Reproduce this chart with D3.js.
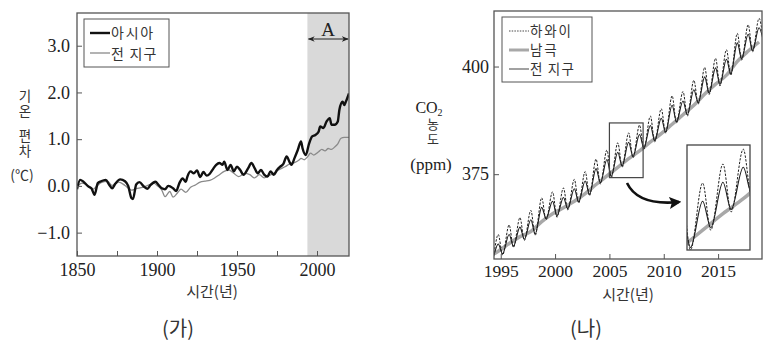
<!DOCTYPE html>
<html>
<head>
<meta charset="utf-8">
<script src="https://cdn.jsdelivr.net/npm/d3@7"></script>
<style>
  body { margin: 0; background: #fff; }
  svg { display: block; }
  .num { font-family: "Liberation Serif", "DejaVu Serif", serif; fill: #222; }
  .kr { font-family: "Noto Sans CJK KR", "Noto Sans", sans-serif; fill: #333; }
  .vert { writing-mode: vertical-rl; text-orientation: upright; }
</style>
</head>
<body>
<svg id="chart" width="765" height="342"></svg>
<script>
// (가) temperature anomaly
var asiaYears = [1850, 1852, 1854, 1857, 1859, 1861, 1863, 1865, 1868, 1870, 1872, 1874, 1877, 1880, 1882, 1884, 1885, 1887, 1889, 1892, 1894, 1896, 1899, 1901, 1903, 1905, 1907, 1910, 1912, 1914, 1916, 1918, 1919, 1921, 1923, 1925, 1927, 1929, 1931, 1933, 1935, 1937, 1939, 1941, 1942, 1944, 1946, 1948, 1950, 1952, 1954, 1957, 1959, 1961, 1963, 1965, 1967, 1969, 1971, 1973, 1975, 1977, 1979, 1981, 1983, 1984, 1986, 1988, 1990, 1991, 1993, 1995, 1997, 1999, 2001, 2002, 2004, 2006, 2008, 2009, 2011, 2013, 2014, 2016, 2017, 2018, 2020];
var asiaAnom  = [-0.07, 0.13, 0.09, -0.01, -0.05, -0.19, 0.06, 0.1, 0.13, 0.03, -0.05, 0.05, 0.14, 0.1, 0.0, -0.26, -0.28, 0.03, 0.08, -0.02, -0.06, 0.02, 0.09, 0.02, -0.05, -0.07, 0.0, -0.05, -0.11, 0.06, 0.16, 0.09, 0.2, 0.31, 0.27, 0.33, 0.19, 0.3, 0.22, 0.26, 0.36, 0.45, 0.49, 0.45, 0.52, 0.34, 0.45, 0.31, 0.41, 0.34, 0.24, 0.38, 0.49, 0.38, 0.27, 0.34, 0.24, 0.2, 0.31, 0.24, 0.34, 0.41, 0.47, 0.63, 0.5, 0.45, 0.6, 0.77, 0.95, 0.8, 0.66, 0.9, 1.06, 1.09, 1.16, 1.27, 1.24, 1.38, 1.45, 1.31, 1.31, 1.38, 1.63, 1.8, 1.73, 1.8, 1.98];

var globeYears = [1850, 1853, 1857, 1860, 1862, 1865, 1869, 1872, 1876, 1880, 1884, 1887, 1891, 1895, 1898, 1900, 1903, 1905, 1908, 1910, 1913, 1915, 1918, 1921, 1924, 1927, 1930, 1933, 1936, 1939, 1942, 1945, 1948, 1951, 1955, 1958, 1961, 1964, 1967, 1970, 1973, 1976, 1980, 1983, 1986, 1989, 1990, 1992, 1994, 1996, 1998, 2001, 2003, 2005, 2007, 2009, 2011, 2013, 2015, 2017, 2020];
var globeAnom  = [-0.03, 0.06, 0.01, -0.07, -0.02, 0.07, 0.1, 0.01, 0.08, 0.01, -0.09, -0.06, -0.03, 0.02, 0.06, 0.01, -0.09, -0.23, -0.12, -0.24, -0.14, -0.07, -0.14, -0.03, 0.02, 0.08, 0.1, 0.12, 0.17, 0.24, 0.31, 0.34, 0.27, 0.2, 0.27, 0.24, 0.17, 0.24, 0.17, 0.22, 0.27, 0.34, 0.41, 0.47, 0.5, 0.56, 0.59, 0.56, 0.62, 0.7, 0.66, 0.73, 0.78, 0.75, 0.8, 0.78, 0.83, 0.9, 1.02, 1.04, 1.04];

var tempTicks = [-1, 0, 1, 2, 3];
var yearTicksL = [1850, 1875, 1900, 1925, 1950, 1975, 2000];
var yearLabelsL = [1850, 1900, 1950, 2000];
var periodA = [1994, 2020];

// (나) CO2, yearly seasonal maximum / minimum and South Pole level
var co2Years   = [1993, 1994, 1995, 1996, 1997, 1998, 1999, 2000, 2001, 2002, 2003, 2004, 2005, 2006, 2007, 2008, 2009, 2010, 2011, 2012, 2013, 2014, 2015, 2016, 2017, 2018];
var hawaiiMax  = [359.0, 361.0, 363.2, 364.9, 366.6, 369.5, 370.9, 371.8, 373.8, 375.6, 378.5, 380.6, 382.3, 384.6, 386.4, 388.5, 390.2, 393.2, 394.2, 396.8, 399.8, 401.9, 403.9, 407.7, 409.7, 411.2];
var hawaiiMin  = [354.9, 356.2, 358.0, 359.6, 360.8, 364.4, 365.0, 366.7, 368.3, 370.0, 372.7, 374.2, 376.6, 378.8, 380.8, 382.5, 384.5, 386.9, 388.5, 391.3, 393.5, 395.5, 398.0, 401.5, 403.4, 405.5];
var globalMax  = [357.0, 358.8, 361.0, 362.7, 364.4, 367.3, 368.7, 369.6, 371.6, 373.4, 376.3, 378.4, 380.1, 382.4, 384.2, 386.3, 388.0, 391.0, 392.0, 394.6, 397.6, 399.7, 401.7, 405.5, 407.5, 409.0];
var globalMin  = [355.2, 356.5, 358.3, 359.9, 361.1, 364.7, 365.3, 367.0, 368.6, 370.3, 373.0, 374.5, 376.9, 379.1, 381.1, 382.8, 384.8, 387.2, 388.8, 391.6, 393.8, 395.8, 398.3, 401.8, 403.7, 405.8];
var southPole  = [355.7, 357.1, 358.9, 360.5, 361.7, 364.0, 365.8, 367.2, 368.7, 370.5, 372.6, 374.6, 376.6, 378.6, 380.4, 382.5, 384.4, 386.6, 388.8, 391.0, 393.6, 395.9, 398.0, 401.2, 403.6, 405.7];
var peakPhase = 0.77, troughPhase = 1.17;   // time in year where max / min sit in the picture
var co2Ticks = [375, 400];
var yearTicksR = [1995, 2000, 2005, 2010, 2015];
var zoomYears = [2005, 2008.1];
var zoomPpm = [374.2, 386.9];

var serif = '"Liberation Serif", "DejaVu Serif", serif';
var svg = d3.select('#chart');

var defs = svg.append('defs');
defs.append('marker').attr('id', 'head').attr('viewBox', '0 0 10 10')
  .attr('refX', 9).attr('refY', 5).attr('markerWidth', 7).attr('markerHeight', 7)
  .attr('orient', 'auto-start-reverse').attr('markerUnits', 'userSpaceOnUse')
  .append('path').attr('d', 'M0,1 L10,5 L0,9 L3,5 Z').attr('fill', '#222');
defs.append('marker').attr('id', 'bighead').attr('viewBox', '0 0 10 10')
  .attr('refX', 8).attr('refY', 5).attr('markerWidth', 12).attr('markerHeight', 12)
  .attr('orient', 'auto').attr('markerUnits', 'userSpaceOnUse')
  .append('path').attr('d', 'M0,0 L10,5 L0,10 L2,5 Z').attr('fill', '#111');

function styleAxis(g, size) {
  g.attr('font-family', null).attr('font-size', null);
  g.select('.domain').remove();
  g.selectAll('line').attr('stroke', '#555').attr('stroke-width', 1);
  g.selectAll('text')
    .style('font-family', serif).style('font-size', size + 'px').attr('fill', '#222');
}

// stacked upright Korean word (one text element per word)
function vword(x, yTop, word, size, spacing) {
  svg.append('text').attr('class', 'kr vert')
    .attr('x', x).attr('y', yTop)
    .style('font-size', size + 'px').style('letter-spacing', spacing + 'px')
    .text(word);
}

function label(x, y, str, size, spacing) {
  return svg.append('text').attr('class', 'kr').attr('x', x).attr('y', y)
    .style('font-size', size + 'px').style('letter-spacing', (spacing || 0) + 'px')
    .text(str);
}

// ---------- (가) ----------
var xL = d3.scaleLinear().domain([1850, 2020]).range([77, 349]);
var yL = d3.scaleLinear().domain([-1.5, 3.7]).range([256, 13]);

defs.append('clipPath').attr('id', 'clipL').append('rect')
  .attr('x', 77).attr('y', 13).attr('width', 272).attr('height', 243);

svg.append('rect')
  .attr('x', xL(periodA[0])).attr('y', yL(3.7))
  .attr('width', xL(periodA[1]) - xL(periodA[0])).attr('height', yL(-1.5) - yL(3.7))
  .attr('fill', '#d9d9d9');

var lineL = d3.line().x(function(d) { return xL(d[0]); }).y(function(d) { return yL(d[1]); })
  .curve(d3.curveMonotoneX);

var gL = svg.append('g').attr('clip-path', 'url(#clipL)');
gL.append('path').datum(d3.zip(globeYears, globeAnom))
  .attr('d', lineL).attr('fill', 'none').attr('stroke', '#8a8a8a').attr('stroke-width', 1.3);
gL.append('path').datum(d3.zip(asiaYears, asiaAnom))
  .attr('d', lineL).attr('fill', 'none').attr('stroke', '#111').attr('stroke-width', 2.4)
  .attr('stroke-linejoin', 'round');

var axLy = svg.append('g').attr('transform', 'translate(77,0)')
  .call(d3.axisLeft(yL).tickValues(tempTicks).tickFormat(d3.format('.1f'))
    .tickSizeInner(-5).tickSizeOuter(0).tickPadding(7));
styleAxis(axLy, 18);

var axLx = svg.append('g').attr('transform', 'translate(0,256)')
  .call(d3.axisBottom(xL).tickValues(yearTicksL)
    .tickFormat(function(d) { return yearLabelsL.indexOf(d) >= 0 ? d : ''; })
    .tickSizeInner(-5).tickSizeOuter(0).tickPadding(7));
styleAxis(axLx, 18);

svg.append('rect').attr('x', 77).attr('y', 13).attr('width', 272).attr('height', 243)
  .attr('fill', 'none').attr('stroke', '#555').attr('stroke-width', 1.3);

// period A arrow
svg.append('line')
  .attr('x1', xL(periodA[0]) + 1).attr('x2', xL(periodA[1]) - 1)
  .attr('y1', 39).attr('y2', 39)
  .attr('stroke', '#222').attr('stroke-width', 1.2)
  .attr('marker-start', 'url(#head)').attr('marker-end', 'url(#head)');
svg.append('text').attr('class', 'num')
  .attr('x', (xL(periodA[0]) + xL(periodA[1])) / 2).attr('y', 36)
  .attr('text-anchor', 'middle').style('font-size', '19px').text('A');

// legend
svg.append('rect').attr('x', 84).attr('y', 19).attr('width', 85).attr('height', 48)
  .attr('fill', '#fff').attr('stroke', '#555').attr('stroke-width', 1);
svg.append('line').attr('x1', 90).attr('x2', 110).attr('y1', 33).attr('y2', 33)
  .attr('stroke', '#111').attr('stroke-width', 2.4);
svg.append('line').attr('x1', 90).attr('x2', 110).attr('y1', 53).attr('y2', 53)
  .attr('stroke', '#8a8a8a').attr('stroke-width', 1.3);
label(111, 38, '아시아', 14, 1.8);
label(111, 58.5, '전 지구', 14, 1.2);

// y title
vword(25, 89, '기온', 13.5, 1.5);
vword(25, 129, '편차', 13.5, 1.5);
label(22, 180, '(℃)', 14).attr('text-anchor', 'middle');

label(212, 297, '시간(년)', 15).attr('text-anchor', 'middle');
label(178, 336, '(가)', 20).attr('text-anchor', 'middle').attr('fill', '#222');

// ---------- (나) ----------
var xR = d3.scaleLinear().domain([1994.38, 2019.04]).range([494, 762]);
var yR = d3.scaleLinear().domain([355.3, 412.9]).range([259, 11]);

function seasonal(maxs, mins) {
  var pts = [];
  co2Years.forEach(function(yr, i) {
    pts.push([yr + peakPhase, maxs[i]]);
    pts.push([yr + troughPhase, mins[i]]);
  });
  return pts;
}
var hawaiiPts = seasonal(hawaiiMax, hawaiiMin);
var globalPts = seasonal(globalMax, globalMin);
var polePts = co2Years.map(function(yr, i) { return [yr + peakPhase, southPole[i]]; });

function drawCo2(g, xs, ys, thick) {
  var ln = d3.line().x(function(d) { return xs(d[0]); }).y(function(d) { return ys(d[1]); })
    .curve(d3.curveMonotoneX);
  g.append('path').datum(polePts).attr('d', ln).attr('fill', 'none')
    .attr('stroke', '#a8a8a8').attr('stroke-width', thick);
  g.append('path').datum(globalPts).attr('d', ln).attr('fill', 'none')
    .attr('stroke', '#1a1a1a').attr('stroke-width', 1.1);
  g.append('path').datum(hawaiiPts).attr('d', ln).attr('fill', 'none')
    .attr('stroke', '#222').attr('stroke-width', 1).attr('stroke-dasharray', '2.4,1.4');
}

defs.append('clipPath').attr('id', 'clipR').append('rect')
  .attr('x', 494).attr('y', 11).attr('width', 268).attr('height', 248);
drawCo2(svg.append('g').attr('clip-path', 'url(#clipR)'), xR, yR, 3.5);

var axRy = svg.append('g').attr('transform', 'translate(494,0)')
  .call(d3.axisLeft(yR).tickValues(co2Ticks).tickSizeInner(-5).tickSizeOuter(0).tickPadding(5));
styleAxis(axRy, 18);
var axRx = svg.append('g').attr('transform', 'translate(0,259)')
  .call(d3.axisBottom(xR).tickValues(yearTicksR).tickFormat(d3.format('d'))
    .tickSizeInner(-5).tickSizeOuter(0).tickPadding(6));
styleAxis(axRx, 17.5);

svg.append('rect').attr('x', 494).attr('y', 11).attr('width', 268).attr('height', 248)
  .attr('fill', 'none').attr('stroke', '#555').attr('stroke-width', 1.3);

// zoom window and inset
svg.append('rect')
  .attr('x', xR(zoomYears[0])).attr('y', yR(zoomPpm[1]))
  .attr('width', xR(zoomYears[1]) - xR(zoomYears[0]))
  .attr('height', yR(zoomPpm[0]) - yR(zoomPpm[1]))
  .attr('fill', 'none').attr('stroke', '#444').attr('stroke-width', 1.2);

var box = { x: 687, y: 145, w: 63, h: 105 };
var xZ = d3.scaleLinear().domain(zoomYears).range([box.x, box.x + box.w]);
var yZ = d3.scaleLinear().domain(zoomPpm).range([box.y + box.h, box.y]);
svg.append('rect').attr('x', box.x).attr('y', box.y).attr('width', box.w).attr('height', box.h)
  .attr('fill', '#fff').attr('stroke', 'none');
defs.append('clipPath').attr('id', 'clipZ').append('rect')
  .attr('x', box.x).attr('y', box.y).attr('width', box.w).attr('height', box.h);
drawCo2(svg.append('g').attr('clip-path', 'url(#clipZ)'), xZ, yZ, 3.5);
svg.append('rect').attr('x', box.x).attr('y', box.y).attr('width', box.w).attr('height', box.h)
  .attr('fill', 'none').attr('stroke', '#444').attr('stroke-width', 1.3);

svg.append('path').attr('d', 'M627,183 Q638,206 679,202')
  .attr('fill', 'none').attr('stroke', '#111').attr('stroke-width', 2.6)
  .attr('marker-end', 'url(#bighead)');

// legend
svg.append('rect').attr('x', 502).attr('y', 17).attr('width', 90).attr('height', 65)
  .attr('fill', '#fff').attr('stroke', '#555').attr('stroke-width', 1);
svg.append('line').attr('x1', 509).attr('x2', 529).attr('y1', 31).attr('y2', 31)
  .attr('stroke', '#333').attr('stroke-width', 0.9).attr('stroke-dasharray', '1.5,1.2');
svg.append('line').attr('x1', 509).attr('x2', 529).attr('y1', 50).attr('y2', 50)
  .attr('stroke', '#a8a8a8').attr('stroke-width', 3);
svg.append('line').attr('x1', 509).attr('x2', 529).attr('y1', 69).attr('y2', 69)
  .attr('stroke', '#555').attr('stroke-width', 1.1);
[['하와이', 31, 1.8], ['남극', 50, 1.8], ['전 지구', 69, 1.2]].forEach(function(t) {
  label(530, t[1] + 5, t[0], 13.5, t[2]);
});

// y title
var co2 = svg.append('text').attr('class', 'num').attr('x', 429).attr('y', 113)
  .attr('text-anchor', 'middle').style('font-size', '16px');
co2.append('tspan').text('CO');
co2.append('tspan').attr('dy', 3).style('font-size', '10px').text('2');
vword(433, 118, '농도', 13, 2);
svg.append('text').attr('class', 'num').attr('x', 431).attr('y', 170)
  .attr('text-anchor', 'middle').style('font-size', '17px').text('(ppm)');

label(628, 300, '시간(년)', 15).attr('text-anchor', 'middle');
label(586, 336, '(나)', 20).attr('text-anchor', 'middle').attr('fill', '#222');
</script>
</body>
</html>
